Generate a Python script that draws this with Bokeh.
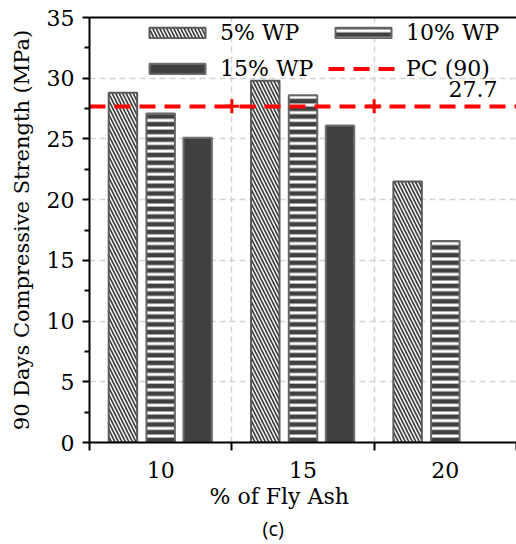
from bokeh.plotting import figure
from bokeh.models import (FixedTicker, LinearAxis, Legend, LegendItem, Label, Title,
                          Range1d, ColumnDataSource)
from bokeh.transform import dodge
from bokeh.embed import file_html
from bokeh.resources import INLINE

# ---- data ----
categories = ["10", "15", "20"]          # % of Fly Ash
wp5 = [28.8, 29.8, 21.5]
wp10 = [27.1, 28.6, 16.6]
wp15 = [25.1, 26.1, None]
pc90 = 27.7
series_names = ["5% WP", "10% WP", "15% WP", "PC (90)"]
y_ticks = [0, 5, 10, 15, 20, 25, 30, 35]

SERIF = "DejaVu Serif"
FS = "22px"
idx = list(range(len(categories)))


def make_src(vals):
    xs = [i for i, v in zip(idx, vals) if v is not None]
    tops = [v for v in vals if v is not None]
    return ColumnDataSource(dict(x=xs, top=tops))


p = figure(width=516, height=544, output_backend="svg", toolbar_location=None,
           x_range=Range1d(-0.5, len(categories) - 0.5), y_range=Range1d(0, 35),
           min_border_left=89, min_border_right=0, min_border_top=17, min_border_bottom=102)
p.background_fill_color = "white"
p.border_fill_color = "white"
p.outline_line_color = None

# grid
p.ygrid.ticker = FixedTicker(ticks=y_ticks)
p.xgrid.ticker = FixedTicker(ticks=[i + 0.5 for i in idx[:-1]])
for g in (p.xgrid, p.ygrid):
    g.grid_line_color = "#d4d4d4"
    g.grid_line_dash = "6 4"
    g.grid_line_width = 1.5

# bars
r5 = p.vbar(x=dodge("x", -0.265), top="top", width=0.2, source=make_src(wp5),
            fill_color="white", line_color="#5a5a5a", line_width=2,
            hatch_pattern="left_diagonal_line", hatch_color="#404040",
            hatch_scale=7, hatch_weight=1.7)
r10 = p.vbar(x=dodge("x", 0.0), top="top", width=0.2, source=make_src(wp10),
             fill_color="#404040", line_color="#666666", line_width=2,
             hatch_pattern="horizontal_line", hatch_color="white",
             hatch_scale=7.7, hatch_weight=3)
r15 = p.vbar(x=dodge("x", 0.26), top="top", width=0.2, source=make_src(wp15),
             fill_color="#404040", line_color="#707070", line_width=2)

# PC reference line
rpc = p.hspan(y=[pc90], line_color="#ff0000", line_width=4, line_dash="16 9")
p.scatter(x=[i + 0.5 for i in idx[:-1]], y=[pc90] * (len(idx) - 1), marker="cross",
          size=14, line_color="#ff0000", line_width=3)
p.add_layout(Label(x=len(categories) - 0.5, y=pc90, x_offset=-19, y_offset=9,
                   text=str(pc90), text_align="right", text_baseline="bottom",
                   text_font=SERIF, text_font_size=FS, text_color="black"))

# axes
p.xaxis.ticker = FixedTicker(ticks=idx, minor_ticks=[i - 0.5 for i in idx] + [idx[-1] + 0.5])
p.xaxis.major_label_overrides = {i: c for i, c in zip(idx, categories)}
p.xaxis.major_tick_out = 0
p.xaxis.major_tick_in = 0
p.xaxis.minor_tick_out = 8
p.xaxis.minor_tick_in = 0
p.xaxis.major_label_standoff = 11

p.yaxis.ticker = FixedTicker(ticks=y_ticks, minor_ticks=[t + 2.5 for t in y_ticks[:-1]])
p.yaxis.major_tick_out = 7
p.yaxis.major_tick_in = 0
p.yaxis.minor_tick_out = 5
p.yaxis.minor_tick_in = 0
p.yaxis.major_label_standoff = 8
p.yaxis.axis_label = "90 Days Compressive Strength (MPa)"
p.yaxis.axis_label_standoff = 10
p.yaxis.axis_label_text_font = SERIF
p.yaxis.axis_label_text_font_size = "21px"
p.yaxis.axis_label_text_font_style = "normal"
p.yaxis.axis_label_text_color = "black"

for ax in (p.xaxis, p.yaxis):
    ax.axis_line_width = 2
    ax.axis_line_color = "black"
    ax.major_tick_line_width = 2
    ax.minor_tick_line_width = 2
    ax.major_tick_line_color = "black"
    ax.minor_tick_line_color = "black"
    ax.major_label_text_font = SERIF
    ax.major_label_text_font_size = FS
    ax.major_label_text_color = "black"

top_axis = LinearAxis(ticker=FixedTicker(ticks=[]), axis_line_width=2, axis_line_color="black",
                      major_tick_out=0, major_tick_in=0, minor_tick_out=0, minor_tick_in=0,
                      major_label_text_font_size="0px")
p.add_layout(top_axis, "above")

# below titles
p.add_layout(Title(text="% of Fly Ash", align="left", offset=120, standoff=3,
                   text_font=SERIF, text_font_size=FS, text_font_style="normal",
                   text_color="black"), "below")
p.add_layout(Title(text="(c)", align="left", offset=173, standoff=4,
                   text_font="Open Sans", text_font_size="20px", text_font_style="normal",
                   text_color="black"), "below")

# legend (column-major fill -> order chosen so rows read 5%,10% / 15%,PC)
legend = Legend(items=[LegendItem(label=series_names[0], renderers=[r5]),
                       LegendItem(label=series_names[2], renderers=[r15]),
                       LegendItem(label=series_names[1], renderers=[r10]),
                       LegendItem(label=series_names[3], renderers=[rpc])],
                ncols=2, location=(53, 361), padding=5, margin=0,
                background_fill_alpha=0, border_line_color=None,
                glyph_width=70, glyph_height=13, label_standoff=8, spacing=11,
                label_width=97, label_height=25, label_text_font=SERIF,
                label_text_font_size=FS, label_text_color="black")
p.add_layout(legend, "center")

open("out.html", "w").write(file_html(p, INLINE))
